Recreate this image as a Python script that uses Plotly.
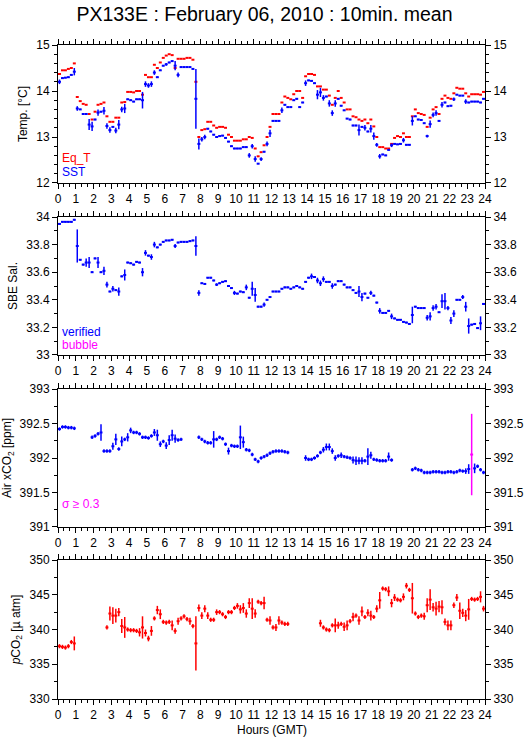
import plotly.graph_objects as go

N = 144
hours = [(k + 0.5) / 6.0 for k in range(N)]
half_slot = 1.0 / 12.0

# ---------------- Temperature panel ----------------
sst = [
    14.20, 14.28, 14.29, 14.30, 14.35, 14.42,
    13.62, 13.60, 13.50, 13.50, 13.27, 13.23,
    13.38, 13.53, 13.55, 13.57, 13.24, 13.15,
    13.22, 13.14, 13.27, 13.60, 13.62, 13.82,
    13.80, 13.77, 13.82, 13.82, 13.80, 14.15,
    14.12, 14.15, 14.40, 14.30, 14.45, 14.55,
    14.58, 14.62, 14.65, 14.55, 14.35, 14.52,
    14.52, 14.52, 14.52, 14.48, 13.83, 12.85,
    12.95, 13.00, 13.18, 13.12, 13.05, 13.00,
    13.02, 13.03, 12.98, 12.90, 12.80, 12.75,
    12.75, 12.75, 12.78, 12.78, 12.60, 12.80,
    12.52, 12.42, 12.52, 12.68, 12.85, 13.08,
    13.35, 13.35, 13.35, 13.58, 13.70, 13.65,
    13.65, 13.80, 13.83, 13.65, 13.75, 14.17,
    14.23, 14.22, 14.17, 13.92, 13.97, 13.85,
    13.88, 13.73, 13.52, 13.73, 13.83, 13.68,
    13.58, 13.40, 13.38, 13.25, 13.25, 13.15,
    13.22, 13.20, 13.12, 13.18, 13.02, 12.83,
    12.58, 12.62, 12.60, 12.72, 12.82, 12.85,
    12.84, 12.85, 12.93, 12.83, 12.83, 13.35,
    13.45, 13.38, 13.37, 13.30, 13.02, 13.28,
    13.48, 13.52, 13.35, 13.70, 13.75, 13.67,
    13.68, 13.82, 13.92, 13.90, 13.90, 13.77,
    13.75, 13.77, 13.77, 13.77, 13.75, 13.83,
]
sst_err_big = {0: 0.05, 5: 0.08, 6: 0.05, 10: 0.12, 11: 0.1, 13: 0.07, 15: 0.08,
               16: 0.06, 17: 0.06, 19: 0.06, 20: 0.1, 21: 0.06, 22: 0.1, 28: 0.18,
               29: 0.06, 30: 0.05, 31: 0.06, 32: 0.05, 36: 0.03, 39: 0.1, 40: 0.05,
               46: 0.65, 47: 0.12, 48: 0.05, 49: 0.05, 64: 0.05, 65: 0.05, 66: 0.06,
               68: 0.04, 70: 0.05, 71: 0.08, 75: 0.06, 83: 0.06, 87: 0.1, 88: 0.1,
               89: 0.06, 91: 0.07, 92: 0.06, 93: 0.07, 101: 0.12, 103: 0.06, 105: 0.08,
               106: 0.08, 107: 0.04, 108: 0.05, 112: 0.04, 116: 0.05, 119: 0.1,
               124: 0.03, 125: 0.08, 126: 0.05, 127: 0.06, 129: 0.06, 133: 0.04, 137: 0.05}
sst_err = [sst_err_big.get(k, 0.015) for k in range(N)]

eq_t = [
    14.37, 14.45, 14.45, 14.48, 14.50, 14.60,
    13.87, 13.78, 13.72, 13.70, 13.50, 13.38,
    13.55, 13.70, 13.72, 13.75, 13.45, 13.33,
    13.33, 13.42, 13.42, 13.75, 13.76, 13.98,
    13.98, 13.97, 14.00, 14.00, 13.92, 14.35,
    14.30, 14.30, 14.57, 14.50, 14.62, 14.72,
    14.77, 14.80, 14.78, 14.50, 14.70, 14.70,
    14.70, 14.72, 14.72, 14.68, 14.20, 13.00,
    13.15, 13.17, 13.33, 13.33, 13.25, 13.20,
    13.22, 13.22, 13.20, 13.05, 13.00, 12.92,
    12.92, 12.92, 12.95, 12.95, 13.00, 12.98,
    12.75, 12.58, 12.67, 12.82, 13.00, 13.22,
    13.50, 13.50, 13.50, 13.75, 13.88, 13.85,
    13.82, 13.93, 14.00, 14.00, 13.85, 14.32,
    14.37, 14.37, 14.35, 14.10, 14.10, 14.03,
    14.03, 13.90, 13.70, 13.85, 14.00, 13.85,
    13.75, 13.60, 13.60, 13.45, 13.43, 13.38,
    13.35, 13.38, 13.30, 13.38, 13.23, 13.00,
    12.78, 12.78, 12.75, 12.75, 12.85, 12.98,
    13.02, 13.00, 13.08, 13.00, 13.00, 13.45,
    13.60, 13.52, 13.50, 13.48, 13.22, 13.42,
    13.60, 13.65, 13.50, 13.83, 13.90, 13.85,
    13.83, 13.95, 14.07, 14.05, 14.05, 13.95,
    13.88, 13.93, 13.93, 13.93, 13.92, 13.98,
]

# ---------------- Salinity panel ----------------
sal = [
    33.95, 33.965, 33.965, 33.965, 33.965, 33.98,
    33.79, 33.69, 33.655, 33.67, 33.67, 33.60,
    33.70, 33.67, 33.60, 33.61, 33.51, 33.46,
    33.48, 33.47, 33.46, 33.57, 33.58, 33.67,
    33.665, 33.655, 33.675, 33.67, 33.60, 33.74,
    33.72, 33.71, 33.80, 33.78, 33.80, 33.82,
    33.83, 33.83, 33.835, 33.79, 33.815, 33.82,
    33.82, 33.82, 33.825, 33.83, 33.79, 33.45,
    33.52, 33.515, 33.56, 33.56, 33.54, 33.51,
    33.52, 33.53, 33.535, 33.50, 33.485, 33.45,
    33.445, 33.46, 33.455, 33.49, 33.415, 33.48,
    33.435, 33.35, 33.35, 33.365, 33.40, 33.42,
    33.46, 33.46, 33.46, 33.48, 33.49, 33.49,
    33.48, 33.49, 33.50, 33.49, 33.48, 33.53,
    33.56, 33.57, 33.565, 33.54, 33.52, 33.55,
    33.53, 33.53, 33.50, 33.51, 33.535, 33.535,
    33.51, 33.49, 33.49, 33.47, 33.45, 33.46,
    33.42, 33.445, 33.415, 33.45, 33.43, 33.38,
    33.32, 33.305, 33.305, 33.32, 33.28, 33.265,
    33.255, 33.255, 33.24, 33.235, 33.225, 33.29,
    33.35, 33.34, 33.34, 33.34, 33.27, 33.28,
    33.34, 33.35, 33.31, 33.39, 33.39, 33.34,
    33.25, 33.30, 33.40, 33.40, 33.42, 33.35,
    33.21, 33.22, 33.225, 33.195, 33.23, 33.37,
]
sal_err_big = {6: 0.12, 9: 0.03, 10: 0.04, 13: 0.04, 15: 0.03, 16: 0.02, 18: 0.02,
               20: 0.03, 22: 0.04, 28: 0.03, 29: 0.02, 31: 0.02, 32: 0.02, 39: 0.015,
               46: 0.07, 47: 0.02, 53: 0.01, 59: 0.015, 63: 0.02, 65: 0.05, 66: 0.05,
               69: 0.015, 85: 0.02, 87: 0.02, 88: 0.02, 89: 0.02, 92: 0.02, 101: 0.04,
               102: 0.03, 105: 0.015, 108: 0.02, 112: 0.02, 119: 0.06, 124: 0.02,
               125: 0.03, 126: 0.02, 127: 0.02, 129: 0.05, 130: 0.06, 131: 0.015,
               132: 0.025, 133: 0.025, 136: 0.015, 137: 0.035, 138: 0.055, 142: 0.05}
sal_err = [sal_err_big.get(k, 0.006) for k in range(N)]

# ---------------- Air xCO2 panel ----------------
_ = None
air_xco2 = [
    392.42, 392.45, 392.45, 392.44, 392.44, 392.43,
    _, _, _, _, _, 392.30,
    392.32, 392.35, 392.37, 392.10, 392.10, 392.10,
    392.17, 392.27, 392.13, 392.24, 392.27, 392.30,
    392.40, 392.37, 392.37, 392.35, 392.30, 392.30,
    392.29, 392.32, 392.37, 392.33, 392.20, 392.24,
    392.18, 392.26, 392.33, 392.28, 392.26, 392.27,
    _, _, _, _, _, 392.30,
    392.27, 392.24, 392.22, 392.22, 392.27, 392.27,
    392.30, 392.28, 392.20, 392.10, 392.18, 392.17,
    392.17, 392.30, 392.23, 392.12, 392.11, 392.05,
    391.98, 391.95, 392.00, 392.02, 392.04, 392.07,
    392.09, 392.10, 392.10, 392.10, 392.09, 392.08,
    _, _, _, _, _, 392.00,
    391.98, 391.98, 392.00, 392.03, 392.08, 392.12,
    392.16, 392.16, 392.10, 392.00, 392.03, 392.04,
    392.02, 392.01, 392.00, 391.97, 391.96, 391.96,
    391.96, 391.96, 392.02, 392.04, 391.98, 391.97,
    391.96, 391.96, 391.96, 392.02, 391.97, _,
    _, _, _, _, _, 391.83,
    391.85, 391.83, 391.82, 391.79, 391.79, 391.79,
    391.80, 391.80, 391.80, 391.79, 391.79, 391.80,
    391.80, 391.79, 391.80, 391.82, 391.81, 391.81,
    391.84, _, 391.85, 391.88, 391.83, 391.79,
]
air_err_big = {14: 0.12, 18: 0.05, 19: 0.08, 21: 0.07, 23: 0.06, 24: 0.04, 32: 0.05,
               33: 0.08, 34: 0.04, 36: 0.05, 37: 0.07, 38: 0.08, 39: 0.06, 52: 0.12,
               57: 0.05, 61: 0.17, 62: 0.08, 83: 0.04, 89: 0.04, 90: 0.05, 91: 0.05,
               92: 0.04, 93: 0.04, 95: 0.04, 99: 0.05, 100: 0.06, 101: 0.05, 102: 0.05,
               104: 0.12, 105: 0.05, 111: 0.06, 137: 0.04, 138: 0.07, 140: 0.07}
air_err = [air_err_big.get(k, 0.025) for k in range(N)]
# high-sigma (>= 0.3) sample
air_flag_hour = [23.25]
air_flag_val = [392.05]
air_flag_err = [0.59]

# ---------------- pCO2 panel ----------------
pco2 = [
    337.6, 337.5, 337.4, 337.6, 338.2, 338.0,
    _, _, _, _, _, _,
    _, _, _, _, 340.3, 342.3,
    342.0, 342.0, 342.5, 340.5, 340.3, 340.0,
    339.9, 339.9, 339.8, 339.6, 340.3, 339.5,
    338.7, 339.8, 341.6, 342.8, 342.2, 341.1,
    341.0, 341.1, 340.6, 339.8, 341.2, 341.6,
    341.9, 341.5, 341.2, 340.5, 338.0, 343.1,
    342.0, 343.0, 342.0, 341.4, 341.4, 342.5,
    342.5, 342.2, 341.8, 342.5, 342.5, 343.1,
    343.4, 342.9, 343.1, 342.3, 343.8, 343.0,
    342.3, 344.0, 343.8, 343.8, 341.4, 341.3,
    340.3, 340.3, 341.3, 341.0, 340.8, 340.8,
    _, _, _, _, _, _,
    _, _, _, _, 340.9, 340.3,
    340.0, 339.9, 340.6, 340.6, 340.6, 340.8,
    340.4, 340.6, 341.2, 341.8, 342.0, 341.3,
    342.6, 341.8, 342.4, 342.0, 341.8, 343.0,
    344.2, 345.9, 345.8, 345.5, 343.8, 344.6,
    344.3, 344.2, 344.7, 346.3, 345.7, 344.5,
    342.3, 341.8, 342.0, 341.9, 343.5, 344.3,
    343.2, 343.0, 343.3, 343.2, 341.1, 340.6,
    340.6, 343.5, 344.6, 342.7, 342.4, 342.0,
    342.9, 344.4, 344.3, 344.4, 344.7, 343.0,
]
pco2_err_big = {5: 1.0, 17: 1.0, 18: 1.2, 19: 1.0, 20: 0.6, 21: 1.0, 22: 1.5, 27: 0.6,
                28: 1.6, 29: 0.5, 30: 0.4, 31: 0.7, 33: 0.6, 34: 0.7, 38: 0.7, 39: 0.4,
                40: 0.5, 44: 0.5, 46: 3.9, 47: 0.5, 48: 0.5, 49: 0.5, 50: 0.5, 53: 0.4,
                60: 0.4, 61: 0.6, 62: 0.7, 63: 0.6, 64: 0.7, 65: 1.5, 66: 0.6, 69: 0.9,
                71: 0.6, 73: 0.5, 74: 0.6, 88: 0.5, 93: 1.0, 94: 0.5, 96: 0.6, 97: 0.7,
                99: 0.6, 101: 0.6, 102: 0.7, 104: 0.5, 105: 0.7, 107: 0.5, 108: 1.2,
                111: 0.7, 112: 0.6, 113: 0.5, 116: 0.5, 117: 0.4, 119: 2.2, 123: 0.5,
                124: 1.0, 125: 1.5, 126: 0.6, 127: 1.0, 128: 0.8, 129: 1.0, 130: 0.5,
                131: 0.7, 132: 0.7, 133: 0.4, 134: 0.5, 135: 1.2, 136: 0.6, 137: 0.8,
                138: 1.5, 142: 0.8, 143: 0.4}
pco2_err = [pco2_err_big.get(k, 0.3) for k in range(N)]

RED = "#ff0000"
BLUE = "#0000ff"
MAG = "#ff00ff"
FONT = "Liberation Sans, Arial, Helvetica, sans-serif"


def bars(x, y, err, color, xa, ya, xerr=half_slot, show_y=True):
    ex = dict(type="constant", value=xerr, color=color, thickness=2, width=0)
    ey = dict(type="data", array=err, color=color, thickness=1.5, width=0, visible=show_y)
    return go.Scatter(x=x, y=y, mode="markers", marker=dict(size=0, color=color, opacity=0),
                      error_x=ex, error_y=ey, xaxis=xa, yaxis=ya, showlegend=False,
                      hoverinfo="x+y")


fig = go.Figure()
fig.add_trace(bars(hours, eq_t, [0] * N, RED, "x", "y", show_y=False))
fig.add_trace(bars(hours, sst, sst_err, BLUE, "x", "y"))
fig.add_trace(bars(hours, sal, sal_err, BLUE, "x2", "y2"))
fig.add_trace(bars(hours, air_xco2, air_err, BLUE, "x3", "y3"))
fig.add_trace(bars(air_flag_hour, air_flag_val, air_flag_err, MAG, "x3", "y3"))
fig.add_trace(bars(hours, pco2, pco2_err, RED, "x4", "y4"))
# empty traces to register right-hand mirror axes
for ya, xa in (("y5", "x"), ("y6", "x2"), ("y7", "x3"), ("y8", "x4")):
    fig.add_trace(go.Scatter(x=[], y=[], xaxis=xa, yaxis=ya, showlegend=False))

domains = [[0.789, 1.0], [0.526, 0.737], [0.263, 0.474], [0.0, 0.2125]]
yranges = [[12, 15], [33, 34], [391, 393], [330, 350]]
ydticks = [1, 0.2, 0.5, 5]
yminor = [0.2, 0.1, 0.25, 2.5]
ytitles = ["Temp. [°C]", "SBE Sal.", "Air xCO<sub>2</sub> [ppm]", "<i>p</i>CO<sub>2</sub> [µ atm]"]

tickfont = dict(family=FONT, size=12, color="black")
layout = dict(
    width=529, height=739,
    margin=dict(l=58, r=44, t=45, b=40, autoexpand=False),
    paper_bgcolor="white", plot_bgcolor="white",
    font=dict(family=FONT, size=12, color="black"),
    title=dict(text="PX133E : February 06, 2010 : 10min. mean", x=0.5, xanchor="center",
               y=0.981, yanchor="middle", yref="container",
               font=dict(family=FONT, size=19.5, color="black")),
    showlegend=False,
)
for i in range(4):
    xn = "xaxis" if i == 0 else f"xaxis{i + 1}"
    yn = "yaxis" if i == 0 else f"yaxis{i + 1}"
    ya = "y" if i == 0 else f"y{i + 1}"
    xa = "x" if i == 0 else f"x{i + 1}"
    layout[xn] = dict(domain=[0, 1], anchor=ya, range=[0, 24], tickmode="linear", tick0=0,
                      dtick=1, ticks="outside", ticklen=5, tickwidth=1, tickcolor="black",
                      showline=True, linecolor="black", linewidth=1, mirror="ticks",
                      showgrid=False, zeroline=False, tickfont=tickfont, automargin=False,
                      minor=dict(dtick=1 / 3, tick0=0, ticklen=3, tickcolor="black",
                                 ticks="outside", showgrid=False))
    layout[yn] = dict(domain=domains[i], anchor=xa, range=yranges[i], tickmode="linear",
                      tick0=yranges[i][0], dtick=ydticks[i], ticks="outside", ticklen=5,
                      tickcolor="black", showline=True, linecolor="black", linewidth=1,
                      mirror=True, showgrid=False, zeroline=False, tickfont=tickfont,
                      automargin=False,
                      title=dict(text=ytitles[i], font=dict(family=FONT, size=12), standoff=6),
                      minor=dict(dtick=yminor[i], tick0=yranges[i][0], ticklen=3,
                                 tickcolor="black", ticks="outside", showgrid=False))
    layout[f"yaxis{i + 5}"] = dict(overlaying=ya, anchor=xa, side="right", range=yranges[i],
                                  tickmode="linear", tick0=yranges[i][0], dtick=ydticks[i],
                                  ticks="outside", ticklen=5, tickcolor="black",
                                  showline=False, showgrid=False, zeroline=False,
                                  tickfont=tickfont, automargin=False,
                                  minor=dict(dtick=yminor[i], tick0=yranges[i][0], ticklen=3,
                                             tickcolor="black", ticks="outside",
                                             showgrid=False))
fig.update_layout(**layout)

ann_font = lambda c: dict(family=FONT, size=12, color=c)
annotations = [
    dict(text="Eq_T", x=0.1, y=12.54, xref="x", yref="y", font=ann_font(RED)),
    dict(text="SST", x=0.1, y=12.24, xref="x", yref="y", font=ann_font(BLUE)),
    dict(text="verified", x=0.1, y=33.17, xref="x2", yref="y2", font=ann_font(BLUE)),
    dict(text="bubble", x=0.1, y=33.07, xref="x2", yref="y2", font=ann_font(MAG)),
    dict(text="σ ≥ 0.3", x=0.1, y=391.33, xref="x3", yref="y3", font=ann_font(MAG)),
    dict(text="Hours (GMT)", x=0.5, y=-0.034, xref="paper", yref="paper",
         xanchor="center", yanchor="top", font=ann_font("black")),
]
for a in annotations:
    a.setdefault("xanchor", "left")
    a.setdefault("yanchor", "middle")
    a["showarrow"] = False
fig.update_layout(annotations=annotations)

fig.write_html("out.html", config={"displayModeBar": False},
               post_script="document.body.style.margin='0';document.body.style.overflow='hidden';")
